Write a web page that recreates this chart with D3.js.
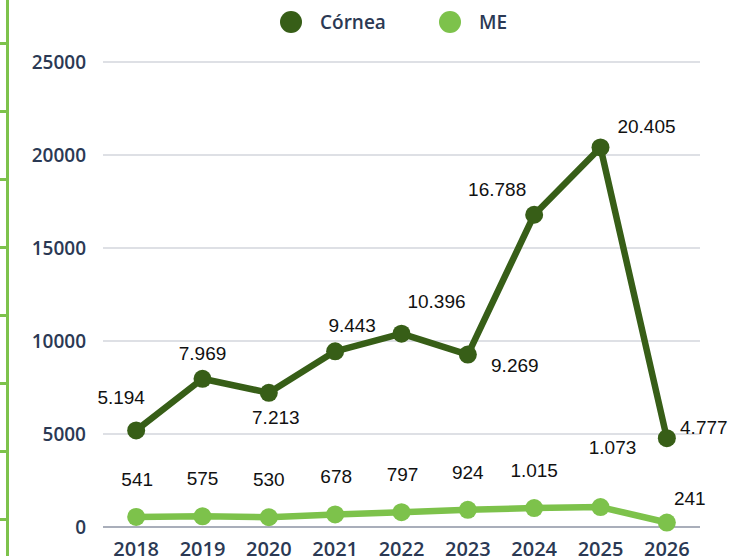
<!DOCTYPE html>
<html>
<head>
<meta charset="utf-8">
<script src="https://cdn.jsdelivr.net/npm/d3@7"></script>
<style>
  body { margin: 0; background: #fff; }
  svg { display: block; }
</style>
</head>
<body>
<svg id="chart"></svg>
<script>
var years = ["2018", "2019", "2020", "2021", "2022", "2023", "2024", "2025", "2026"];
var cornea = [5194, 7969, 7213, 9443, 10396, 9269, 16788, 20405, 4777];
var me = [541, 575, 530, 678, 797, 924, 1015, 1073, 241];
var yTicks = [0, 5000, 10000, 15000, 20000, 25000];

// label offsets (dx, dy) per point
var corneaOff = [[-15, -32], [0, -25], [7, 25], [17, -25], [35, -32], [47, 11], [-37, -25], [46, -20], [37, -10]];
var meOff = [[1, -37], [0, -37], [0, -37], [1, -37], [1, -37], [0, -37], [0, -37], [12, -59], [23, -24]];

var W = 729, H = 556;
var fmt = function (v) { return d3.format(",")(v).replace(/,/g, "."); };

var svg = d3.select("#chart").attr("width", W).attr("height", H);

var x = d3.scalePoint().domain(years).range([103, 700]).padding(0.5);
var y = d3.scaleLinear().domain([0, 25000]).range([527, 62]);

// left green rule with ticks
svg.append("rect").attr("x", 6).attr("y", 0).attr("width", 3).attr("height", H).attr("fill", "#7dc24b");
svg.selectAll(".lt").data(d3.range(0, 8)).enter().append("rect")
    .attr("x", 0).attr("y", function (d) { return 42 + d * 68; })
    .attr("width", 8).attr("height", 3).attr("fill", "#7dc24b");

// grid
svg.append("g").selectAll("line").data(yTicks).enter().append("line")
    .attr("x1", 103).attr("x2", 700)
    .attr("y1", function (d) { return y(d); }).attr("y2", function (d) { return y(d); })
    .attr("stroke", function (d) { return d === 0 ? "#8c93a3" : "#d3d6dc"; })
    .attr("stroke-width", 1.5);

// y labels
svg.append("g").selectAll("text").data(yTicks).enter().append("text")
    .attr("x", 86).attr("y", function (d) { return y(d) + 7; })
    .attr("text-anchor", "end")
    .attr("font-family", "Open Sans, sans-serif").attr("font-size", 19).attr("font-weight", 600)
    .attr("fill", "#2b3954")
    .text(function (d) { return d; });

// x labels
svg.append("g").selectAll("text").data(years).enter().append("text")
    .attr("x", function (d) { return x(d); }).attr("y", 556)
    .attr("text-anchor", "middle")
    .attr("font-family", "Open Sans, sans-serif").attr("font-size", 20).attr("font-weight", 600)
    .attr("fill", "#2b3954")
    .text(function (d) { return d; });

function series(vals, color, off) {
    var line = d3.line().x(function (d, i) { return x(years[i]); }).y(function (d) { return y(d); });
    svg.append("path").datum(vals).attr("d", line)
        .attr("fill", "none").attr("stroke", color).attr("stroke-width", 6.5).attr("stroke-linejoin", "round");
    svg.append("g").selectAll("circle").data(vals).enter().append("circle")
        .attr("cx", function (d, i) { return x(years[i]); }).attr("cy", function (d) { return y(d); })
        .attr("r", 9).attr("fill", color);
    svg.append("g").selectAll("text").data(vals).enter().append("text")
        .attr("x", function (d, i) { return x(years[i]) + off[i][0]; })
        .attr("y", function (d, i) { return y(d) + off[i][1] + 6; })
        .attr("text-anchor", "middle")
        .attr("font-family", "Liberation Sans, Arial, sans-serif").attr("font-size", 19)
        .attr("fill", "#111")
        .text(function (d) { return fmt(d); });
}
series(me, "#7dc24b", meOff);
series(cornea, "#375e17", corneaOff);

// legend
var legend = [["Córnea", "#375e17", 291], ["ME", "#7dc24b", 450]];
legend.forEach(function (l) {
    svg.append("circle").attr("cx", l[2]).attr("cy", 22).attr("r", 11).attr("fill", l[1]);
    svg.append("text").attr("x", l[2] + 29).attr("y", 29)
        .attr("font-family", "Open Sans, sans-serif").attr("font-size", 19).attr("font-weight", 600)
        .attr("fill", "#2b3954").text(l[0]);
});
</script>
</body>
</html>
